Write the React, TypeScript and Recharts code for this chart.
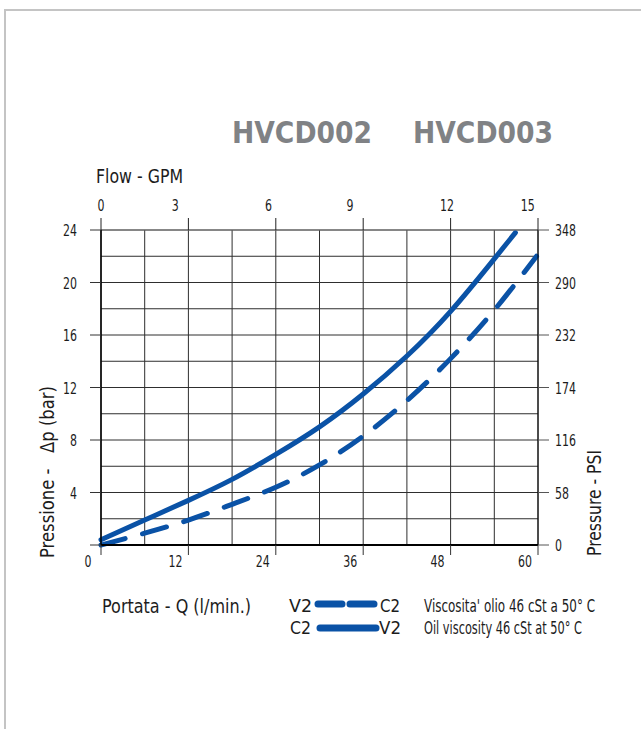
import React from "react";
import { LineChart, Line, XAxis, YAxis, CartesianGrid } from "recharts";

// flow in l/min, pressure drop in bar
const flowTicks = [0, 6, 12, 18, 24, 30, 36, 42, 48, 54, 60];
const flowMajor = [0, 12, 24, 36, 48, 60];
const barTicks = [0, 2, 4, 6, 8, 10, 12, 14, 16, 18, 20, 22, 24];
const psiTicks = [0, 58, 116, 174, 232, 290, 348];
const gpmLabels = ["0", "3", "6", "9", "12", "15"];
const gpmLabelAt = [0, 10.2, 23.0, 34.2, 47.5, 58.6];
const topTicks = Array.from(new Set([...flowMajor, ...gpmLabelAt])).sort((a, b) => a - b);

const solidQ = [0, 6, 12, 18, 24, 30, 36, 42, 48, 54, 56.9];
const solidBar = [0.4, 1.9, 3.4, 5.0, 6.9, 9.0, 11.5, 14.4, 17.8, 21.8, 23.8];
const dashedQ = [0, 6, 12, 18, 24, 30, 36, 42, 48, 54, 59.8];
const dashedBar = [0, 0.9, 1.9, 3.1, 4.4, 6.1, 8.3, 11.0, 14.2, 17.9, 22.0];

const solidData = solidQ.map((q, i) => ({ q, bar: solidBar[i] }));
const dashedData = dashedQ.map((q, i) => ({ q, bar: dashedBar[i] }));

const BLUE = "#0a52a6";
const INK = "#1c1c1c";
const FONT = "'DejaVu Sans', sans-serif";

// condensed look: squeeze the glyphs horizontally to the width seen in the original
function T(props: any) {
    const { x, y, w, size = 19, weight = 400, fill = INK, rotate = 0, sx = 0.72, anchor = "start", children } = props;
    return (
        <text
            x={0}
            y={0}
            textAnchor={anchor}
            textLength={w / sx}
            lengthAdjust="spacingAndGlyphs"
            fontSize={size}
            fontWeight={weight}
            fontFamily={FONT}
            fill={fill}
            style={{ whiteSpace: "pre" }}
            transform={`translate(${x} ${y}) rotate(${rotate}) scale(${sx} 1)`}
        >
            {children}
        </text>
    );
}

function Num(props: any) {
    const { x, y, anchor, children } = props;
    const s = String(children);
    return (
        <T x={x} y={y} w={s.length * 7} size={16} anchor={anchor}>
            {s}
        </T>
    );
}

function BottomTick(props: any) {
    const { x, y, payload } = props;
    const v = payload.value;
    if (!flowMajor.includes(v)) return null;
    return (
        <g>
            <line x1={x} y1={y} x2={x} y2={y + 10} stroke="#333" strokeWidth={1} />
            <Num x={x - 13} y={y + 22} anchor="middle">{v}</Num>
        </g>
    );
}

function LeftTick(props: any) {
    const { x, y, payload } = props;
    const v = payload.value;
    if (v % 4 !== 0) return null;
    return (
        <g>
            <line x1={x - 11} y1={y} x2={x} y2={y} stroke="#333" strokeWidth={1} />
            {v > 0 && <Num x={x - 24} y={y + 6} anchor="end">{v}</Num>}
        </g>
    );
}

function RightTick(props: any) {
    const { x, y, payload } = props;
    return (
        <g>
            <line x1={x} y1={y} x2={x + 11} y2={y} stroke="#555" strokeWidth={1} />
            <Num x={x + 17} y={y + 6} anchor="start">{payload.value}</Num>
        </g>
    );
}

function TopTick(props: any) {
    const { x, y, payload } = props;
    const v = payload.value;
    const li = gpmLabelAt.indexOf(v);
    return (
        <g>
            {flowMajor.includes(v) && <line x1={x} y1={y} x2={x} y2={y - 12} stroke="#222" strokeWidth={1} />}
            {li >= 0 && <Num x={x} y={y - 19} anchor="middle">{gpmLabels[li]}</Num>}
        </g>
    );
}

export default function App() {
    return (
        <div style={{ position: "absolute", left: 0, top: 0, width: 641, height: 729, overflow: "hidden", background: "#fff" }}>
            <div style={{ position: "absolute", left: 4, top: 9, width: 700, height: 760, borderLeft: "2px solid #c4c4c4", borderTop: "2px solid #c4c4c4" }} />
            <div style={{ position: "absolute", left: 0, top: 0 }}>
                <LineChart width={641} height={729} data={solidData} margin={{ top: 200, left: 61, right: 53, bottom: 154 }}>
                    <CartesianGrid xAxisId="q" yAxisId="bar" stroke="#2e2e2e" strokeWidth={1} />
                    <XAxis
                        xAxisId="q"
                        dataKey="q"
                        type="number"
                        domain={[0, 60]}
                        ticks={flowTicks}
                        orientation="bottom"
                        height={30}
                        tickSize={0}
                        tickMargin={0}
                        tickLine={false}
                        axisLine={{ stroke: "#000", strokeWidth: 2 }}
                        tick={<BottomTick />}
                        interval={0}
                    />
                    <XAxis
                        xAxisId="top"
                        dataKey="q"
                        type="number"
                        domain={[0, 60]}
                        ticks={topTicks}
                        orientation="top"
                        height={30}
                        tickSize={0}
                        tickMargin={0}
                        tickLine={false}
                        axisLine={{ stroke: "#777", strokeWidth: 1 }}
                        tick={<TopTick />}
                        interval={0}
                    />
                    <YAxis
                        yAxisId="bar"
                        type="number"
                        domain={[0, 24]}
                        ticks={barTicks}
                        width={40}
                        tickSize={0}
                        tickMargin={0}
                        tickLine={false}
                        axisLine={{ stroke: "#000", strokeWidth: 1.5 }}
                        tick={<LeftTick />}
                        interval={0}
                    />
                    <YAxis
                        yAxisId="psi"
                        orientation="right"
                        type="number"
                        domain={[0, 348]}
                        ticks={psiTicks}
                        width={50}
                        tickSize={0}
                        tickMargin={0}
                        tickLine={false}
                        axisLine={{ stroke: "#000", strokeWidth: 1 }}
                        tick={<RightTick />}
                        interval={0}
                    />
                    {/* invisible carrier so the secondary axes get drawn */}
                    <Line xAxisId="top" yAxisId="psi" data={solidData} dataKey="bar" stroke="none" dot={false} activeDot={false} isAnimationActive={false} />
                    <Line
                        xAxisId="q"
                        yAxisId="bar"
                        data={dashedData}
                        dataKey="bar"
                        type="natural"
                        stroke={BLUE}
                        strokeWidth={5}
                        strokeLinecap="round"
                        strokeDasharray="25 18"
                        dot={false}
                        activeDot={false}
                        isAnimationActive={false}
                    />
                    <Line
                        xAxisId="q"
                        yAxisId="bar"
                        data={solidData}
                        dataKey="bar"
                        type="natural"
                        stroke={BLUE}
                        strokeWidth={5}
                        strokeLinecap="round"
                        dot={false}
                        activeDot={false}
                        isAnimationActive={false}
                    />
                </LineChart>
            </div>
            <svg width={641} height={729} style={{ position: "absolute", left: 0, top: 0, pointerEvents: "none" }}>
                <T x={232} y={143} w={140} size={30} weight={700} fill="#808285" sx={0.85}>HVCD002</T>
                <T x={413} y={143} w={140} size={30} weight={700} fill="#808285" sx={0.85}>HVCD003</T>
                <T x={96} y={183} w={87} size={20}>Flow - GPM</T>
                <T x={102} y={613} w={149} size={20}>Portata - Q (l/min.)</T>
                <T x={54} y={558} w={172} size={20} rotate={-90}>Pressione -   Δp (bar)</T>
                <T x={601} y={556} w={106} size={20} rotate={-90}>Pressure - PSI</T>

                <T x={289} y={612} w={23} size={18}>V2</T>
                <line x1={318} y1={604} x2={376} y2={604} stroke={BLUE} strokeWidth={7} strokeLinecap="round" strokeDasharray="24 8" />
                <T x={380} y={612} w={20} size={18}>C2</T>
                <T x={290} y={634} w={21} size={18}>C2</T>
                <line x1={320} y1={628} x2={376} y2={628} stroke={BLUE} strokeWidth={7} strokeLinecap="round" />
                <T x={379} y={634} w={22} size={18}>V2</T>
                <T x={424} y={612} w={171} size={17} sx={0.66}>Viscosita' olio 46 cSt a 50° C</T>
                <T x={424} y={634} w={158} size={17} sx={0.66}>Oil viscosity 46 cSt at 50° C</T>
            </svg>
        </div>
    );
}
